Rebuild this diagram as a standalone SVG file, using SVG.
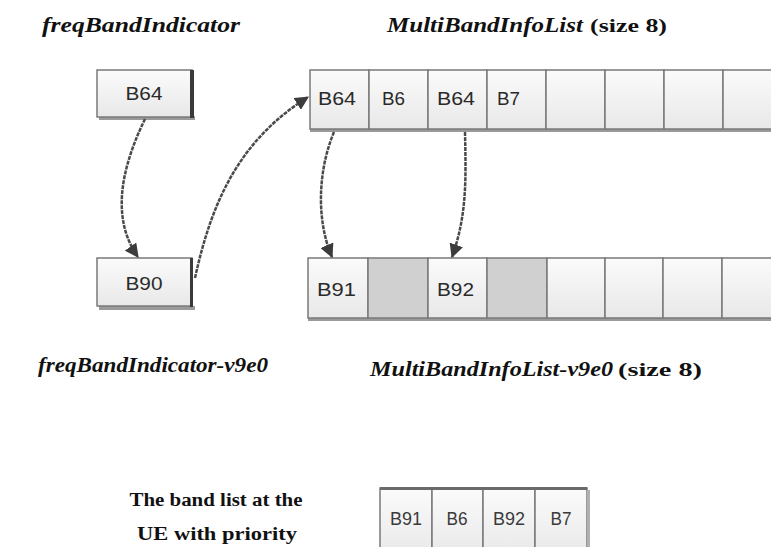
<svg xmlns="http://www.w3.org/2000/svg" width="771" height="547" viewBox="0 0 771 547">
<defs>
<linearGradient id="g" x1="0" y1="0" x2="0" y2="1">
<stop offset="0" stop-color="#fbfbfb"/>
<stop offset="1" stop-color="#e8e8e8"/>
</linearGradient>
<marker id="ah" viewBox="0 0 12 12" refX="11" refY="6" markerWidth="14" markerHeight="14" markerUnits="userSpaceOnUse" orient="auto">
<path d="M0,0 L12,6 L0,12 Z" fill="#3c3c3c"/>
</marker>
</defs>
<style>
.cell{fill:url(#g);stroke:#7a7a7a;stroke-width:1.5}
.gray{fill:#d0d0d0;stroke:#7a7a7a;stroke-width:1.5}
.sh{fill:#9a9a9a}
.lbl{font-family:"Liberation Sans","DejaVu Sans",sans-serif;font-size:18px;fill:#2a2a2a}
.sm{font-family:"Liberation Sans","DejaVu Sans",sans-serif;font-size:18px;fill:#3a3a3a}
.ttl{font-family:"Liberation Serif","DejaVu Serif",serif;font-size:20px;font-weight:bold;font-style:italic;fill:#111}
.ttn{font-family:"Liberation Serif","DejaVu Serif",serif;font-size:18px;font-weight:bold;fill:#111}
.con{fill:none;stroke:#4a4a4a;stroke-width:2.5;stroke-dasharray:4 1}
</style>
<rect width="771" height="547" fill="#fff"/>

<text class="ttl" x="42" y="32" textLength="198" lengthAdjust="spacingAndGlyphs">freqBandIndicator</text>
<text class="ttl" x="387" y="32" textLength="196" lengthAdjust="spacingAndGlyphs">MultiBandInfoList</text>
<text class="ttn" x="590" y="32" textLength="77" lengthAdjust="spacingAndGlyphs">(size 8)</text>

<g id="b64">
<rect class="sh" x="99" y="116" width="96" height="4"/>
<rect class="cell" x="97" y="70" width="95" height="47"/>
<rect x="190" y="70" width="4" height="48" fill="#3a3a3a"/>
<text class="lbl" x="144" y="100" text-anchor="middle" textLength="37" lengthAdjust="spacingAndGlyphs">B64</text>
</g>

<g id="b90">
<rect class="sh" x="99" y="306" width="96" height="4"/>
<rect class="cell" x="97" y="258" width="95" height="48"/>
<rect x="190" y="258" width="3" height="49" fill="#3a3a3a"/>
<text class="lbl" x="144" y="290" text-anchor="middle" textLength="37" lengthAdjust="spacingAndGlyphs">B90</text>
</g>

<g id="list1">
<rect class="sh" x="310" y="128" width="472" height="4"/>
<rect class="cell" x="310" y="70" width="59" height="59"/>
<rect class="cell" x="369" y="70" width="59" height="59"/>
<rect class="cell" x="428" y="70" width="59" height="59"/>
<rect class="cell" x="487" y="70" width="59" height="59"/>
<rect class="cell" x="546" y="70" width="59" height="59"/>
<rect class="cell" x="605" y="70" width="59" height="59"/>
<rect class="cell" x="664" y="70" width="59" height="59"/>
<rect class="cell" x="723" y="70" width="59" height="59"/>
<text class="lbl" x="318" y="105" textLength="38" lengthAdjust="spacingAndGlyphs">B64</text>
<text class="lbl" x="382" y="105" textLength="23" lengthAdjust="spacingAndGlyphs">B6</text>
<text class="lbl" x="437" y="105" textLength="38" lengthAdjust="spacingAndGlyphs">B64</text>
<text class="lbl" x="497" y="105" textLength="23" lengthAdjust="spacingAndGlyphs">B7</text>
</g>

<g id="list2">
<rect class="sh" x="308" y="317" width="474" height="4"/>
<rect class="cell" x="308" y="258" width="60" height="60"/>
<rect class="gray" x="368" y="258" width="60" height="60"/>
<rect class="cell" x="428" y="258" width="59" height="60"/>
<rect class="gray" x="487" y="258" width="60" height="60"/>
<rect class="cell" x="547" y="258" width="58" height="60"/>
<rect class="cell" x="605" y="258" width="58" height="60"/>
<rect class="cell" x="663" y="258" width="59" height="60"/>
<rect class="cell" x="722" y="258" width="60" height="60"/>
<text class="lbl" x="317" y="296" textLength="39" lengthAdjust="spacingAndGlyphs">B91</text>
<text class="lbl" x="437" y="296" textLength="37" lengthAdjust="spacingAndGlyphs">B92</text>
</g>

<text class="ttl" x="38" y="372" textLength="230" lengthAdjust="spacingAndGlyphs">freqBandIndicator-v9e0</text>
<text class="ttl" x="370" y="376" textLength="243" lengthAdjust="spacingAndGlyphs">MultiBandInfoList-v9e0</text>
<text class="ttn" x="618" y="376" textLength="84" lengthAdjust="spacingAndGlyphs">(size 8)</text>

<g id="list3">
<rect class="cell" x="380" y="488" width="52" height="70"/>
<rect class="cell" x="432" y="488" width="51" height="70"/>
<rect class="cell" x="483" y="488" width="52" height="70"/>
<rect class="cell" x="535" y="488" width="52" height="70"/>
<rect x="380" y="487" width="207" height="3" fill="#6a6a6a"/>
<rect x="587" y="490" width="3" height="60" fill="#b0b0b0"/>
<text class="sm" x="406" y="525" text-anchor="middle" textLength="32" lengthAdjust="spacingAndGlyphs">B91</text>
<text class="sm" x="457" y="525" text-anchor="middle" textLength="21" lengthAdjust="spacingAndGlyphs">B6</text>
<text class="sm" x="509" y="525" text-anchor="middle" textLength="32" lengthAdjust="spacingAndGlyphs">B92</text>
<text class="sm" x="561" y="525" text-anchor="middle" textLength="21" lengthAdjust="spacingAndGlyphs">B7</text>
</g>

<text class="ttn" x="216" y="506" text-anchor="middle" textLength="173" lengthAdjust="spacingAndGlyphs">The band list at the</text>
<text class="ttn" x="217" y="540" text-anchor="middle" textLength="160" lengthAdjust="spacingAndGlyphs">UE with priority</text>

<g id="connectors">
<path class="con" d="M145,119 C 125,160 108,215 138,257" marker-end="url(#ah)"/>
<path class="con" d="M195,278 C 212,200 240,140 308,97" marker-end="url(#ah)"/>
<path class="con" d="M334,132 C 318,170 316,220 332,257" marker-end="url(#ah)"/>
<path class="con" d="M465,132 C 466,180 467,215 452,257" marker-end="url(#ah)"/>
</g>
</svg>
